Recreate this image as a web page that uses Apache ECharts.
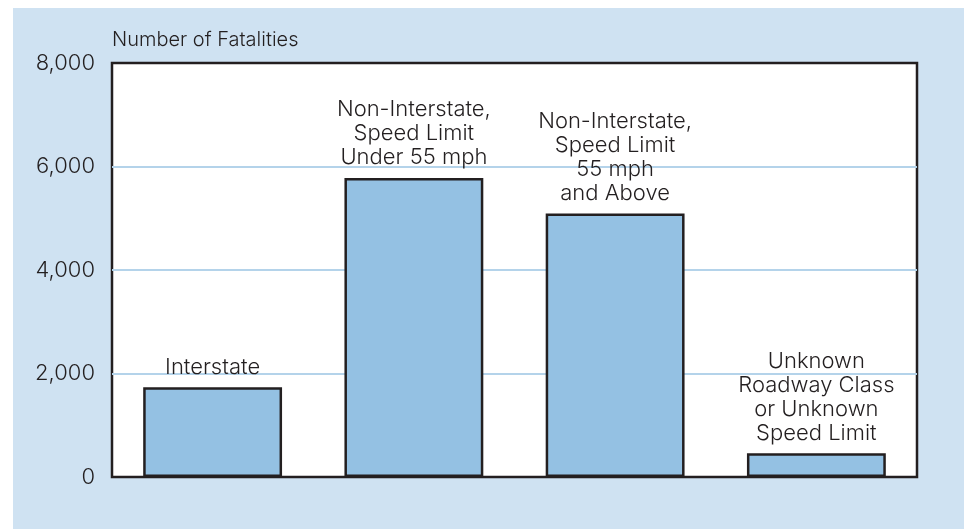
<!DOCTYPE html>
<html>
<head>
<meta charset="utf-8">
<script src="https://cdn.jsdelivr.net/npm/echarts@6/dist/echarts.min.js"></script>
<style>
  html, body { margin: 0; padding: 0; background: #ffffff; width: 964px; height: 529px; overflow: hidden; }
  #chart { position: absolute; left: 13px; top: 8px; width: 951px; height: 521px; }
</style>
</head>
<body>
<div id="chart"></div>
<script>
// Fatalities by roadway class / speed limit
const categories = [
  'Interstate',
  'Non-Interstate,\nSpeed Limit\nUnder 55 mph',
  'Non-Interstate,\nSpeed Limit\n55 mph\nand Above',
  'Unknown\nRoadway Class\nor Unknown\nSpeed Limit'
];
const fatalities = [1735, 5780, 5090, 460];
const yTicks = [0, 2000, 4000, 6000, 8000];

const FONT = 'Inter, "Liberation Sans", Arial, sans-serif';
const WEIGHT = 300;
const INK = '#231f20';
const EDGE = '#231f20';

const chart = echarts.init(document.getElementById('chart'), null, { renderer: 'canvas' });

chart.setOption({
  backgroundColor: '#cfe2f2',
  animation: false,
  title: {
    text: 'Number of Fatalities',
    left: 99,
    top: 20,
    padding: 0,
    textStyle: { fontFamily: FONT, fontSize: 20, fontWeight: WEIGHT, color: INK, lineHeight: 24 }
  },
  grid: {
    left: 99,
    right: 47,
    top: 55,
    bottom: 52,
    show: true,
    backgroundColor: '#ffffff',
    borderColor: EDGE,
    borderWidth: 2.5,
    containLabel: false
  },
  xAxis: {
    type: 'category',
    data: categories,
    axisLine: { show: false },
    axisTick: { show: false },
    axisLabel: { show: false },
    splitLine: { show: false }
  },
  yAxis: {
    type: 'value',
    min: yTicks[0],
    max: yTicks[yTicks.length - 1],
    interval: yTicks[1] - yTicks[0],
    axisLine: { show: false },
    axisTick: { show: false },
    axisLabel: {
      margin: 17,
      fontFamily: FONT,
      fontSize: 22,
      fontWeight: WEIGHT,
      color: INK,
      formatter: v => v.toLocaleString('en-US')
    },
    splitLine: { show: true, showMinLine: false, showMaxLine: false, lineStyle: { color: '#b4d3ea', width: 2 } }
  },
  series: [{
    type: 'bar',
    data: fatalities,
    barWidth: '69%',
    itemStyle: { color: '#94c1e3', borderColor: EDGE, borderWidth: 2.5 },
    label: {
      show: true,
      position: 'top',
      distance: 8,
      formatter: '{b}',
      fontFamily: FONT,
      fontSize: 22,
      fontWeight: WEIGHT,
      lineHeight: 24,
      color: INK,
      align: 'center'
    }
  }]
});
</script>
</body>
</html>
